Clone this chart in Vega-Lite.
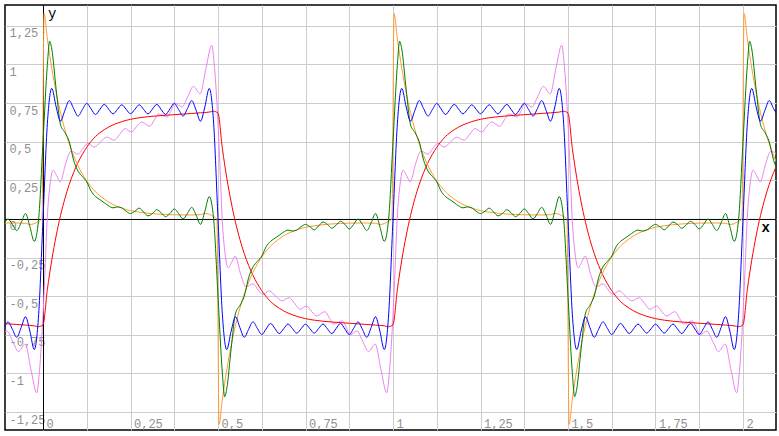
{
"$schema":"https://vega.github.io/schema/vega-lite/v6.json",
"width":771,"height":425,
"autosize":{"type":"none"},
"padding":{"left":5,"top":5,"right":3,"bottom":6},
"background":"white",
"config":{"view":{"stroke":"black","strokeWidth":1.5}},
"layer":[
{"data":{"values":[{}]},"mark":{"type":"rule","color":"black","strokeWidth":1,"xOffset":0.5},"encoding":{"x":{"datum":0,"type":"quantitative"}}},
{"data":{"values":[{}]},"mark":{"type":"rule","color":"black","strokeWidth":1,"yOffset":0.5},"encoding":{"y":{"datum":0,"type":"quantitative"}}},
{"data":{"values":[
{"s":"v","x":-0.134,"y":-0.7},{"s":"v","x":-0.123,"y":-0.75},{"s":"v","x":-0.103,"y":-0.725},{"s":"v","x":-0.087,"y":-0.79},{"s":"v","x":-0.07,"y":-0.858},{"s":"v","x":-0.051,"y":-0.81},{"s":"v","x":-0.034,"y":-0.98},
{"s":"v","x":-0.018,"y":-1.125},{"s":"v","x":-0.01,"y":-0.98},{"s":"v","x":0,"y":-0.62},{"s":"v","x":0.006,"y":-0.32},{"s":"v","x":0.012,"y":0},{"s":"v","x":0.02,"y":0.22},{"s":"v","x":0.029,"y":0.316},{"s":"v","x":0.04,"y":0.275},{"s":"v","x":0.049,"y":0.24},{"s":"v","x":0.065,"y":0.36},{"s":"v","x":0.08,"y":0.44},{"s":"v","x":0.1,"y":0.42},{"s":"v","x":0.115,"y":0.46},{"s":"v","x":0.128,"y":0.49},{"s":"v","x":0.146,"y":0.465},{"s":"v","x":0.165,"y":0.5},{"s":"v","x":0.182,"y":0.53},{"s":"v","x":0.203,"y":0.51},{"s":"v","x":0.22,"y":0.55},{"s":"v","x":0.234,"y":0.585},{"s":"v","x":0.253,"y":0.563},{"s":"v","x":0.268,"y":0.6},{"s":"v","x":0.282,"y":0.628},{"s":"v","x":0.305,"y":0.6},{"s":"v","x":0.318,"y":0.64},{"s":"v","x":0.33,"y":0.68},{"s":"v","x":0.355,"y":0.66},{"s":"v","x":0.366,"y":0.7},{"s":"v","x":0.377,"y":0.75},{"s":"v","x":0.397,"y":0.725},{"s":"v","x":0.413,"y":0.79},{"s":"v","x":0.43,"y":0.858},{"s":"v","x":0.449,"y":0.81},{"s":"v","x":0.466,"y":0.98},
{"s":"v","x":0.482,"y":1.125},{"s":"v","x":0.49,"y":0.98},{"s":"v","x":0.5,"y":0.62},{"s":"v","x":0.506,"y":0.32},{"s":"v","x":0.512,"y":0},{"s":"v","x":0.52,"y":-0.22},{"s":"v","x":0.529,"y":-0.316},{"s":"v","x":0.54,"y":-0.275},{"s":"v","x":0.549,"y":-0.24},{"s":"v","x":0.565,"y":-0.36},{"s":"v","x":0.58,"y":-0.44},{"s":"v","x":0.6,"y":-0.42},{"s":"v","x":0.615,"y":-0.46},{"s":"v","x":0.628,"y":-0.49},{"s":"v","x":0.646,"y":-0.465},{"s":"v","x":0.665,"y":-0.5},{"s":"v","x":0.682,"y":-0.53},{"s":"v","x":0.703,"y":-0.51},{"s":"v","x":0.72,"y":-0.55},{"s":"v","x":0.734,"y":-0.585},{"s":"v","x":0.753,"y":-0.563},{"s":"v","x":0.768,"y":-0.6},{"s":"v","x":0.782,"y":-0.628},{"s":"v","x":0.805,"y":-0.6},{"s":"v","x":0.818,"y":-0.64},{"s":"v","x":0.83,"y":-0.68},{"s":"v","x":0.855,"y":-0.66},{"s":"v","x":0.866,"y":-0.7},{"s":"v","x":0.877,"y":-0.75},{"s":"v","x":0.897,"y":-0.725},{"s":"v","x":0.913,"y":-0.79},{"s":"v","x":0.93,"y":-0.858},{"s":"v","x":0.949,"y":-0.81},{"s":"v","x":0.966,"y":-0.98},
{"s":"v","x":0.982,"y":-1.125},{"s":"v","x":0.99,"y":-0.98},{"s":"v","x":1,"y":-0.62},{"s":"v","x":1.006,"y":-0.32},{"s":"v","x":1.012,"y":0},{"s":"v","x":1.02,"y":0.22},{"s":"v","x":1.029,"y":0.316},{"s":"v","x":1.04,"y":0.275},{"s":"v","x":1.049,"y":0.24},{"s":"v","x":1.065,"y":0.36},{"s":"v","x":1.08,"y":0.44},{"s":"v","x":1.1,"y":0.42},{"s":"v","x":1.115,"y":0.46},{"s":"v","x":1.128,"y":0.49},{"s":"v","x":1.146,"y":0.465},{"s":"v","x":1.165,"y":0.5},{"s":"v","x":1.182,"y":0.53},{"s":"v","x":1.203,"y":0.51},{"s":"v","x":1.22,"y":0.55},{"s":"v","x":1.234,"y":0.585},{"s":"v","x":1.253,"y":0.563},{"s":"v","x":1.268,"y":0.6},{"s":"v","x":1.282,"y":0.628},{"s":"v","x":1.305,"y":0.6},{"s":"v","x":1.318,"y":0.64},{"s":"v","x":1.33,"y":0.68},{"s":"v","x":1.355,"y":0.66},{"s":"v","x":1.366,"y":0.7},{"s":"v","x":1.377,"y":0.75},{"s":"v","x":1.397,"y":0.725},{"s":"v","x":1.413,"y":0.79},{"s":"v","x":1.43,"y":0.858},{"s":"v","x":1.449,"y":0.81},{"s":"v","x":1.466,"y":0.98},
{"s":"v","x":1.482,"y":1.125},{"s":"v","x":1.49,"y":0.98},{"s":"v","x":1.5,"y":0.62},{"s":"v","x":1.506,"y":0.32},{"s":"v","x":1.512,"y":0},{"s":"v","x":1.52,"y":-0.22},{"s":"v","x":1.529,"y":-0.316},{"s":"v","x":1.54,"y":-0.275},{"s":"v","x":1.549,"y":-0.24},{"s":"v","x":1.565,"y":-0.36},{"s":"v","x":1.58,"y":-0.44},{"s":"v","x":1.6,"y":-0.42},{"s":"v","x":1.615,"y":-0.46},{"s":"v","x":1.628,"y":-0.49},{"s":"v","x":1.646,"y":-0.465},{"s":"v","x":1.665,"y":-0.5},{"s":"v","x":1.682,"y":-0.53},{"s":"v","x":1.703,"y":-0.51},{"s":"v","x":1.72,"y":-0.55},{"s":"v","x":1.734,"y":-0.585},{"s":"v","x":1.753,"y":-0.563},{"s":"v","x":1.768,"y":-0.6},{"s":"v","x":1.782,"y":-0.628},{"s":"v","x":1.805,"y":-0.6},{"s":"v","x":1.818,"y":-0.64},{"s":"v","x":1.83,"y":-0.68},{"s":"v","x":1.855,"y":-0.66},{"s":"v","x":1.866,"y":-0.7},{"s":"v","x":1.877,"y":-0.75},{"s":"v","x":1.897,"y":-0.725},{"s":"v","x":1.913,"y":-0.79},{"s":"v","x":1.93,"y":-0.858},{"s":"v","x":1.949,"y":-0.81},{"s":"v","x":1.966,"y":-0.98},
{"s":"v","x":1.982,"y":-1.125},{"s":"v","x":1.99,"y":-0.98},{"s":"v","x":2,"y":-0.62},{"s":"v","x":2.006,"y":-0.32},{"s":"v","x":2.012,"y":0},{"s":"v","x":2.02,"y":0.22},{"s":"v","x":2.029,"y":0.316},{"s":"v","x":2.04,"y":0.275},{"s":"v","x":2.049,"y":0.24},{"s":"v","x":2.065,"y":0.36},{"s":"v","x":2.08,"y":0.44},{"s":"v","x":2.1,"y":0.42},{"s":"v","x":2.115,"y":0.46},

{"s":"r","x":-0.125,"y":-0.675},{"s":"r","x":-0.1,"y":-0.679},{"s":"r","x":-0.075,"y":-0.683},{"s":"r","x":-0.05,"y":-0.687},{"s":"r","x":-0.025,"y":-0.692},{"s":"r","x":-0.0125,"y":-0.697},
{"s":"r","x":0,"y":-0.685},{"s":"r","x":0.0125,"y":-0.455},{"s":"r","x":0.025,"y":-0.267},{"s":"r","x":0.0375,"y":-0.11},{"s":"r","x":0.05,"y":0.022},{"s":"r","x":0.0625,"y":0.132},{"s":"r","x":0.075,"y":0.224},{"s":"r","x":0.0875,"y":0.301},{"s":"r","x":0.1,"y":0.365},{"s":"r","x":0.1125,"y":0.419},{"s":"r","x":0.125,"y":0.464},{"s":"r","x":0.1375,"y":0.502},{"s":"r","x":0.15,"y":0.534},{"s":"r","x":0.1625,"y":0.558},{"s":"r","x":0.175,"y":0.578},{"s":"r","x":0.1875,"y":0.595},{"s":"r","x":0.2,"y":0.609},{"s":"r","x":0.2125,"y":0.62},{"s":"r","x":0.225,"y":0.63},{"s":"r","x":0.25,"y":0.645},{"s":"r","x":0.275,"y":0.655},{"s":"r","x":0.3,"y":0.662},{"s":"r","x":0.325,"y":0.667},{"s":"r","x":0.35,"y":0.671},{"s":"r","x":0.375,"y":0.675},{"s":"r","x":0.4,"y":0.679},{"s":"r","x":0.425,"y":0.683},{"s":"r","x":0.45,"y":0.687},{"s":"r","x":0.475,"y":0.692},{"s":"r","x":0.4875,"y":0.697},
{"s":"r","x":0.5,"y":0.685},{"s":"r","x":0.5125,"y":0.455},{"s":"r","x":0.525,"y":0.267},{"s":"r","x":0.5375,"y":0.11},{"s":"r","x":0.55,"y":-0.022},{"s":"r","x":0.5625,"y":-0.132},{"s":"r","x":0.575,"y":-0.224},{"s":"r","x":0.5875,"y":-0.301},{"s":"r","x":0.6,"y":-0.365},{"s":"r","x":0.6125,"y":-0.419},{"s":"r","x":0.625,"y":-0.464},{"s":"r","x":0.6375,"y":-0.502},{"s":"r","x":0.65,"y":-0.534},{"s":"r","x":0.6625,"y":-0.558},{"s":"r","x":0.675,"y":-0.578},{"s":"r","x":0.6875,"y":-0.595},{"s":"r","x":0.7,"y":-0.609},{"s":"r","x":0.7125,"y":-0.62},{"s":"r","x":0.725,"y":-0.63},{"s":"r","x":0.75,"y":-0.645},{"s":"r","x":0.775,"y":-0.655},{"s":"r","x":0.8,"y":-0.662},{"s":"r","x":0.825,"y":-0.667},{"s":"r","x":0.85,"y":-0.671},{"s":"r","x":0.875,"y":-0.675},{"s":"r","x":0.9,"y":-0.679},{"s":"r","x":0.925,"y":-0.683},{"s":"r","x":0.95,"y":-0.687},{"s":"r","x":0.975,"y":-0.692},{"s":"r","x":0.9875,"y":-0.697},
{"s":"r","x":1,"y":-0.685},{"s":"r","x":1.0125,"y":-0.455},{"s":"r","x":1.025,"y":-0.267},{"s":"r","x":1.0375,"y":-0.11},{"s":"r","x":1.05,"y":0.022},{"s":"r","x":1.0625,"y":0.132},{"s":"r","x":1.075,"y":0.224},{"s":"r","x":1.0875,"y":0.301},{"s":"r","x":1.1,"y":0.365},{"s":"r","x":1.1125,"y":0.419},{"s":"r","x":1.125,"y":0.464},{"s":"r","x":1.1375,"y":0.502},{"s":"r","x":1.15,"y":0.534},{"s":"r","x":1.1625,"y":0.558},{"s":"r","x":1.175,"y":0.578},{"s":"r","x":1.1875,"y":0.595},{"s":"r","x":1.2,"y":0.609},{"s":"r","x":1.2125,"y":0.62},{"s":"r","x":1.225,"y":0.63},{"s":"r","x":1.25,"y":0.645},{"s":"r","x":1.275,"y":0.655},{"s":"r","x":1.3,"y":0.662},{"s":"r","x":1.325,"y":0.667},{"s":"r","x":1.35,"y":0.671},{"s":"r","x":1.375,"y":0.675},{"s":"r","x":1.4,"y":0.679},{"s":"r","x":1.425,"y":0.683},{"s":"r","x":1.45,"y":0.687},{"s":"r","x":1.475,"y":0.692},{"s":"r","x":1.4875,"y":0.697},
{"s":"r","x":1.5,"y":0.685},{"s":"r","x":1.5125,"y":0.455},{"s":"r","x":1.525,"y":0.267},{"s":"r","x":1.5375,"y":0.11},{"s":"r","x":1.55,"y":-0.022},{"s":"r","x":1.5625,"y":-0.132},{"s":"r","x":1.575,"y":-0.224},{"s":"r","x":1.5875,"y":-0.301},{"s":"r","x":1.6,"y":-0.365},{"s":"r","x":1.6125,"y":-0.419},{"s":"r","x":1.625,"y":-0.464},{"s":"r","x":1.6375,"y":-0.502},{"s":"r","x":1.65,"y":-0.534},{"s":"r","x":1.6625,"y":-0.558},{"s":"r","x":1.675,"y":-0.578},{"s":"r","x":1.6875,"y":-0.595},{"s":"r","x":1.7,"y":-0.609},{"s":"r","x":1.7125,"y":-0.62},{"s":"r","x":1.725,"y":-0.63},{"s":"r","x":1.75,"y":-0.645},{"s":"r","x":1.775,"y":-0.655},{"s":"r","x":1.8,"y":-0.662},{"s":"r","x":1.825,"y":-0.667},{"s":"r","x":1.85,"y":-0.671},{"s":"r","x":1.875,"y":-0.675},{"s":"r","x":1.9,"y":-0.679},{"s":"r","x":1.925,"y":-0.683},{"s":"r","x":1.95,"y":-0.687},{"s":"r","x":1.975,"y":-0.692},{"s":"r","x":1.9875,"y":-0.697},
{"s":"r","x":2,"y":-0.685},{"s":"r","x":2.0125,"y":-0.455},{"s":"r","x":2.025,"y":-0.267},{"s":"r","x":2.0375,"y":-0.11},{"s":"r","x":2.05,"y":0.022},{"s":"r","x":2.0625,"y":0.132},{"s":"r","x":2.075,"y":0.224},{"s":"r","x":2.0875,"y":0.301},{"s":"r","x":2.1,"y":0.365},

{"s":"o","x":-0.125,"y":-0.027},{"s":"o","x":-0.1,"y":-0.026},{"s":"o","x":-0.075,"y":-0.026},{"s":"o","x":-0.05,"y":-0.028},{"s":"o","x":-0.0375,"y":-0.036},{"s":"o","x":-0.025,"y":-0.03},{"s":"o","x":-0.0125,"y":-0.015},{"s":"o","x":-0.003,"y":0},
{"s":"o","x":0.003,"y":1.33},{"s":"o","x":0.0125,"y":1.165},{"s":"o","x":0.025,"y":0.977},{"s":"o","x":0.0375,"y":0.82},{"s":"o","x":0.05,"y":0.688},{"s":"o","x":0.0625,"y":0.578},{"s":"o","x":0.075,"y":0.486},{"s":"o","x":0.0875,"y":0.409},{"s":"o","x":0.1,"y":0.345},{"s":"o","x":0.1125,"y":0.291},{"s":"o","x":0.125,"y":0.246},{"s":"o","x":0.1375,"y":0.208},{"s":"o","x":0.15,"y":0.176},{"s":"o","x":0.1625,"y":0.15},{"s":"o","x":0.175,"y":0.128},{"s":"o","x":0.1875,"y":0.109},{"s":"o","x":0.2,"y":0.094},{"s":"o","x":0.225,"y":0.07},{"s":"o","x":0.25,"y":0.054},{"s":"o","x":0.275,"y":0.044},{"s":"o","x":0.3,"y":0.037},{"s":"o","x":0.325,"y":0.032},{"s":"o","x":0.35,"y":0.029},{"s":"o","x":0.375,"y":0.027},{"s":"o","x":0.4,"y":0.026},{"s":"o","x":0.425,"y":0.026},{"s":"o","x":0.45,"y":0.028},{"s":"o","x":0.4625,"y":0.036},{"s":"o","x":0.475,"y":0.03},{"s":"o","x":0.4875,"y":0.015},{"s":"o","x":0.497,"y":0},
{"s":"o","x":0.503,"y":-1.33},{"s":"o","x":0.5125,"y":-1.165},{"s":"o","x":0.525,"y":-0.977},{"s":"o","x":0.5375,"y":-0.82},{"s":"o","x":0.55,"y":-0.688},{"s":"o","x":0.5625,"y":-0.578},{"s":"o","x":0.575,"y":-0.486},{"s":"o","x":0.5875,"y":-0.409},{"s":"o","x":0.6,"y":-0.345},{"s":"o","x":0.6125,"y":-0.291},{"s":"o","x":0.625,"y":-0.246},{"s":"o","x":0.6375,"y":-0.208},{"s":"o","x":0.65,"y":-0.176},{"s":"o","x":0.6625,"y":-0.15},{"s":"o","x":0.675,"y":-0.128},{"s":"o","x":0.6875,"y":-0.109},{"s":"o","x":0.7,"y":-0.094},{"s":"o","x":0.725,"y":-0.07},{"s":"o","x":0.75,"y":-0.054},{"s":"o","x":0.775,"y":-0.044},{"s":"o","x":0.8,"y":-0.037},{"s":"o","x":0.825,"y":-0.032},{"s":"o","x":0.85,"y":-0.029},{"s":"o","x":0.875,"y":-0.027},{"s":"o","x":0.9,"y":-0.026},{"s":"o","x":0.925,"y":-0.026},{"s":"o","x":0.95,"y":-0.028},{"s":"o","x":0.9625,"y":-0.036},{"s":"o","x":0.975,"y":-0.03},{"s":"o","x":0.9875,"y":-0.015},{"s":"o","x":0.997,"y":0},
{"s":"o","x":1.003,"y":1.33},{"s":"o","x":1.0125,"y":1.165},{"s":"o","x":1.025,"y":0.977},{"s":"o","x":1.0375,"y":0.82},{"s":"o","x":1.05,"y":0.688},{"s":"o","x":1.0625,"y":0.578},{"s":"o","x":1.075,"y":0.486},{"s":"o","x":1.0875,"y":0.409},{"s":"o","x":1.1,"y":0.345},{"s":"o","x":1.1125,"y":0.291},{"s":"o","x":1.125,"y":0.246},{"s":"o","x":1.1375,"y":0.208},{"s":"o","x":1.15,"y":0.176},{"s":"o","x":1.1625,"y":0.15},{"s":"o","x":1.175,"y":0.128},{"s":"o","x":1.1875,"y":0.109},{"s":"o","x":1.2,"y":0.094},{"s":"o","x":1.225,"y":0.07},{"s":"o","x":1.25,"y":0.054},{"s":"o","x":1.275,"y":0.044},{"s":"o","x":1.3,"y":0.037},{"s":"o","x":1.325,"y":0.032},{"s":"o","x":1.35,"y":0.029},{"s":"o","x":1.375,"y":0.027},{"s":"o","x":1.4,"y":0.026},{"s":"o","x":1.425,"y":0.026},{"s":"o","x":1.45,"y":0.028},{"s":"o","x":1.4625,"y":0.036},{"s":"o","x":1.475,"y":0.03},{"s":"o","x":1.4875,"y":0.015},{"s":"o","x":1.497,"y":0},
{"s":"o","x":1.503,"y":-1.33},{"s":"o","x":1.5125,"y":-1.165},{"s":"o","x":1.525,"y":-0.977},{"s":"o","x":1.5375,"y":-0.82},{"s":"o","x":1.55,"y":-0.688},{"s":"o","x":1.5625,"y":-0.578},{"s":"o","x":1.575,"y":-0.486},{"s":"o","x":1.5875,"y":-0.409},{"s":"o","x":1.6,"y":-0.345},{"s":"o","x":1.6125,"y":-0.291},{"s":"o","x":1.625,"y":-0.246},{"s":"o","x":1.6375,"y":-0.208},{"s":"o","x":1.65,"y":-0.176},{"s":"o","x":1.6625,"y":-0.15},{"s":"o","x":1.675,"y":-0.128},{"s":"o","x":1.6875,"y":-0.109},{"s":"o","x":1.7,"y":-0.094},{"s":"o","x":1.725,"y":-0.07},{"s":"o","x":1.75,"y":-0.054},{"s":"o","x":1.775,"y":-0.044},{"s":"o","x":1.8,"y":-0.037},{"s":"o","x":1.825,"y":-0.032},{"s":"o","x":1.85,"y":-0.029},{"s":"o","x":1.875,"y":-0.027},{"s":"o","x":1.9,"y":-0.026},{"s":"o","x":1.925,"y":-0.026},{"s":"o","x":1.95,"y":-0.028},{"s":"o","x":1.9625,"y":-0.036},{"s":"o","x":1.975,"y":-0.03},{"s":"o","x":1.9875,"y":-0.015},{"s":"o","x":1.997,"y":0},
{"s":"o","x":2.003,"y":1.33},{"s":"o","x":2.0125,"y":1.165},{"s":"o","x":2.025,"y":0.977},{"s":"o","x":2.0375,"y":0.82},{"s":"o","x":2.05,"y":0.688},{"s":"o","x":2.0625,"y":0.578},{"s":"o","x":2.075,"y":0.486},{"s":"o","x":2.0875,"y":0.409},{"s":"o","x":2.1,"y":0.345},

{"s":"g","x":-0.125,"y":-0.065},{"s":"g","x":-0.1125,"y":-0.035},{"s":"g","x":-0.1,"y":0},{"s":"g","x":-0.0875,"y":-0.035},{"s":"g","x":-0.075,"y":-0.075},{"s":"g","x":-0.0625,"y":-0.025},{"s":"g","x":-0.05,"y":0.035},{"s":"g","x":-0.0375,"y":-0.05},{"s":"g","x":-0.025,"y":-0.145},{"s":"g","x":-0.0125,"y":0},
{"s":"g","x":0,"y":0.5},{"s":"g","x":0.0125,"y":1},{"s":"g","x":0.019,"y":1.15},{"s":"g","x":0.025,"y":1.1},{"s":"g","x":0.0375,"y":0.84},{"s":"g","x":0.05,"y":0.61},{"s":"g","x":0.0625,"y":0.56},{"s":"g","x":0.075,"y":0.5},{"s":"g","x":0.0875,"y":0.38},{"s":"g","x":0.1,"y":0.31},{"s":"g","x":0.1125,"y":0.275},{"s":"g","x":0.125,"y":0.24},{"s":"g","x":0.1375,"y":0.18},{"s":"g","x":0.15,"y":0.145},{"s":"g","x":0.1625,"y":0.125},{"s":"g","x":0.175,"y":0.105},{"s":"g","x":0.1875,"y":0.085},{"s":"g","x":0.2,"y":0.072},{"s":"g","x":0.2125,"y":0.078},{"s":"g","x":0.225,"y":0.072},{"s":"g","x":0.2375,"y":0.05},{"s":"g","x":0.25,"y":0.035},{"s":"g","x":0.2625,"y":0.05},{"s":"g","x":0.275,"y":0.07},{"s":"g","x":0.2875,"y":0.045},{"s":"g","x":0.3,"y":0.02},{"s":"g","x":0.3125,"y":0.035},{"s":"g","x":0.325,"y":0.06},{"s":"g","x":0.3375,"y":0.04},{"s":"g","x":0.35,"y":0.015},{"s":"g","x":0.3625,"y":0.035},{"s":"g","x":0.375,"y":0.065},{"s":"g","x":0.3875,"y":0.035},{"s":"g","x":0.4,"y":0},{"s":"g","x":0.4125,"y":0.035},{"s":"g","x":0.425,"y":0.075},{"s":"g","x":0.4375,"y":0.025},{"s":"g","x":0.45,"y":-0.035},{"s":"g","x":0.4625,"y":0.05},{"s":"g","x":0.475,"y":0.145},{"s":"g","x":0.4875,"y":0},
{"s":"g","x":0.5,"y":-0.5},{"s":"g","x":0.5125,"y":-1},{"s":"g","x":0.519,"y":-1.15},{"s":"g","x":0.525,"y":-1.1},{"s":"g","x":0.5375,"y":-0.84},{"s":"g","x":0.55,"y":-0.61},{"s":"g","x":0.5625,"y":-0.56},{"s":"g","x":0.575,"y":-0.5},{"s":"g","x":0.5875,"y":-0.38},{"s":"g","x":0.6,"y":-0.31},{"s":"g","x":0.6125,"y":-0.275},{"s":"g","x":0.625,"y":-0.24},{"s":"g","x":0.6375,"y":-0.18},{"s":"g","x":0.65,"y":-0.145},{"s":"g","x":0.6625,"y":-0.125},{"s":"g","x":0.675,"y":-0.105},{"s":"g","x":0.6875,"y":-0.085},{"s":"g","x":0.7,"y":-0.072},{"s":"g","x":0.7125,"y":-0.078},{"s":"g","x":0.725,"y":-0.072},{"s":"g","x":0.7375,"y":-0.05},{"s":"g","x":0.75,"y":-0.035},{"s":"g","x":0.7625,"y":-0.05},{"s":"g","x":0.775,"y":-0.07},{"s":"g","x":0.7875,"y":-0.045},{"s":"g","x":0.8,"y":-0.02},{"s":"g","x":0.8125,"y":-0.035},{"s":"g","x":0.825,"y":-0.06},{"s":"g","x":0.8375,"y":-0.04},{"s":"g","x":0.85,"y":-0.015},{"s":"g","x":0.8625,"y":-0.035},{"s":"g","x":0.875,"y":-0.065},{"s":"g","x":0.8875,"y":-0.035},{"s":"g","x":0.9,"y":0},{"s":"g","x":0.9125,"y":-0.035},{"s":"g","x":0.925,"y":-0.075},{"s":"g","x":0.9375,"y":-0.025},{"s":"g","x":0.95,"y":0.035},{"s":"g","x":0.9625,"y":-0.05},{"s":"g","x":0.975,"y":-0.145},{"s":"g","x":0.9875,"y":0},
{"s":"g","x":1,"y":0.5},{"s":"g","x":1.0125,"y":1},{"s":"g","x":1.019,"y":1.15},{"s":"g","x":1.025,"y":1.1},{"s":"g","x":1.0375,"y":0.84},{"s":"g","x":1.05,"y":0.61},{"s":"g","x":1.0625,"y":0.56},{"s":"g","x":1.075,"y":0.5},{"s":"g","x":1.0875,"y":0.38},{"s":"g","x":1.1,"y":0.31},{"s":"g","x":1.1125,"y":0.275},{"s":"g","x":1.125,"y":0.24},{"s":"g","x":1.1375,"y":0.18},{"s":"g","x":1.15,"y":0.145},{"s":"g","x":1.1625,"y":0.125},{"s":"g","x":1.175,"y":0.105},{"s":"g","x":1.1875,"y":0.085},{"s":"g","x":1.2,"y":0.072},{"s":"g","x":1.2125,"y":0.078},{"s":"g","x":1.225,"y":0.072},{"s":"g","x":1.2375,"y":0.05},{"s":"g","x":1.25,"y":0.035},{"s":"g","x":1.2625,"y":0.05},{"s":"g","x":1.275,"y":0.07},{"s":"g","x":1.2875,"y":0.045},{"s":"g","x":1.3,"y":0.02},{"s":"g","x":1.3125,"y":0.035},{"s":"g","x":1.325,"y":0.06},{"s":"g","x":1.3375,"y":0.04},{"s":"g","x":1.35,"y":0.015},{"s":"g","x":1.3625,"y":0.035},{"s":"g","x":1.375,"y":0.065},{"s":"g","x":1.3875,"y":0.035},{"s":"g","x":1.4,"y":0},{"s":"g","x":1.4125,"y":0.035},{"s":"g","x":1.425,"y":0.075},{"s":"g","x":1.4375,"y":0.025},{"s":"g","x":1.45,"y":-0.035},{"s":"g","x":1.4625,"y":0.05},{"s":"g","x":1.475,"y":0.145},{"s":"g","x":1.4875,"y":0},
{"s":"g","x":1.5,"y":-0.5},{"s":"g","x":1.5125,"y":-1},{"s":"g","x":1.519,"y":-1.15},{"s":"g","x":1.525,"y":-1.1},{"s":"g","x":1.5375,"y":-0.84},{"s":"g","x":1.55,"y":-0.61},{"s":"g","x":1.5625,"y":-0.56},{"s":"g","x":1.575,"y":-0.5},{"s":"g","x":1.5875,"y":-0.38},{"s":"g","x":1.6,"y":-0.31},{"s":"g","x":1.6125,"y":-0.275},{"s":"g","x":1.625,"y":-0.24},{"s":"g","x":1.6375,"y":-0.18},{"s":"g","x":1.65,"y":-0.145},{"s":"g","x":1.6625,"y":-0.125},{"s":"g","x":1.675,"y":-0.105},{"s":"g","x":1.6875,"y":-0.085},{"s":"g","x":1.7,"y":-0.072},{"s":"g","x":1.7125,"y":-0.078},{"s":"g","x":1.725,"y":-0.072},{"s":"g","x":1.7375,"y":-0.05},{"s":"g","x":1.75,"y":-0.035},{"s":"g","x":1.7625,"y":-0.05},{"s":"g","x":1.775,"y":-0.07},{"s":"g","x":1.7875,"y":-0.045},{"s":"g","x":1.8,"y":-0.02},{"s":"g","x":1.8125,"y":-0.035},{"s":"g","x":1.825,"y":-0.06},{"s":"g","x":1.8375,"y":-0.04},{"s":"g","x":1.85,"y":-0.015},{"s":"g","x":1.8625,"y":-0.035},{"s":"g","x":1.875,"y":-0.065},{"s":"g","x":1.8875,"y":-0.035},{"s":"g","x":1.9,"y":0},{"s":"g","x":1.9125,"y":-0.035},{"s":"g","x":1.925,"y":-0.075},{"s":"g","x":1.9375,"y":-0.025},{"s":"g","x":1.95,"y":0.035},{"s":"g","x":1.9625,"y":-0.05},{"s":"g","x":1.975,"y":-0.145},{"s":"g","x":1.9875,"y":0},
{"s":"g","x":2,"y":0.5},{"s":"g","x":2.0125,"y":1},{"s":"g","x":2.019,"y":1.15},{"s":"g","x":2.025,"y":1.1},{"s":"g","x":2.0375,"y":0.84},{"s":"g","x":2.05,"y":0.61},{"s":"g","x":2.0625,"y":0.56},{"s":"g","x":2.075,"y":0.5},{"s":"g","x":2.0875,"y":0.38},{"s":"g","x":2.1,"y":0.31},

{"s":"b","x":-0.125,"y":-0.748},{"s":"b","x":-0.1125,"y":-0.708},{"s":"b","x":-0.1,"y":-0.666},{"s":"b","x":-0.0875,"y":-0.714},{"s":"b","x":-0.075,"y":-0.766},{"s":"b","x":-0.0625,"y":-0.703},{"s":"b","x":-0.05,"y":-0.633},{"s":"b","x":-0.0375,"y":-0.726},{"s":"b","x":-0.025,"y":-0.845},{"s":"b","x":-0.0125,"y":-0.62},
{"s":"b","x":0,"y":0},{"s":"b","x":0.0125,"y":0.62},{"s":"b","x":0.025,"y":0.845},{"s":"b","x":0.0375,"y":0.726},{"s":"b","x":0.05,"y":0.633},{"s":"b","x":0.0625,"y":0.703},{"s":"b","x":0.075,"y":0.766},{"s":"b","x":0.0875,"y":0.714},{"s":"b","x":0.1,"y":0.666},{"s":"b","x":0.1125,"y":0.708},{"s":"b","x":0.125,"y":0.748},{"s":"b","x":0.1375,"y":0.712},{"s":"b","x":0.15,"y":0.676},{"s":"b","x":0.1625,"y":0.709},{"s":"b","x":0.175,"y":0.742},{"s":"b","x":0.1875,"y":0.711},{"s":"b","x":0.2,"y":0.68},{"s":"b","x":0.2125,"y":0.709},{"s":"b","x":0.225,"y":0.739},{"s":"b","x":0.2375,"y":0.71},{"s":"b","x":0.25,"y":0.681},{"s":"b","x":0.2625,"y":0.71},{"s":"b","x":0.275,"y":0.739},{"s":"b","x":0.2875,"y":0.709},{"s":"b","x":0.3,"y":0.68},{"s":"b","x":0.3125,"y":0.711},{"s":"b","x":0.325,"y":0.742},{"s":"b","x":0.3375,"y":0.709},{"s":"b","x":0.35,"y":0.676},{"s":"b","x":0.3625,"y":0.712},{"s":"b","x":0.375,"y":0.748},{"s":"b","x":0.3875,"y":0.708},{"s":"b","x":0.4,"y":0.666},{"s":"b","x":0.4125,"y":0.714},{"s":"b","x":0.425,"y":0.766},{"s":"b","x":0.4375,"y":0.703},{"s":"b","x":0.45,"y":0.633},{"s":"b","x":0.4625,"y":0.726},{"s":"b","x":0.475,"y":0.845},{"s":"b","x":0.4875,"y":0.62},
{"s":"b","x":0.5,"y":0},{"s":"b","x":0.5125,"y":-0.62},{"s":"b","x":0.525,"y":-0.845},{"s":"b","x":0.5375,"y":-0.726},{"s":"b","x":0.55,"y":-0.633},{"s":"b","x":0.5625,"y":-0.703},{"s":"b","x":0.575,"y":-0.766},{"s":"b","x":0.5875,"y":-0.714},{"s":"b","x":0.6,"y":-0.666},{"s":"b","x":0.6125,"y":-0.708},{"s":"b","x":0.625,"y":-0.748},{"s":"b","x":0.6375,"y":-0.712},{"s":"b","x":0.65,"y":-0.676},{"s":"b","x":0.6625,"y":-0.709},{"s":"b","x":0.675,"y":-0.742},{"s":"b","x":0.6875,"y":-0.711},{"s":"b","x":0.7,"y":-0.68},{"s":"b","x":0.7125,"y":-0.709},{"s":"b","x":0.725,"y":-0.739},{"s":"b","x":0.7375,"y":-0.71},{"s":"b","x":0.75,"y":-0.681},{"s":"b","x":0.7625,"y":-0.71},{"s":"b","x":0.775,"y":-0.739},{"s":"b","x":0.7875,"y":-0.709},{"s":"b","x":0.8,"y":-0.68},{"s":"b","x":0.8125,"y":-0.711},{"s":"b","x":0.825,"y":-0.742},{"s":"b","x":0.8375,"y":-0.709},{"s":"b","x":0.85,"y":-0.676},{"s":"b","x":0.8625,"y":-0.712},{"s":"b","x":0.875,"y":-0.748},{"s":"b","x":0.8875,"y":-0.708},{"s":"b","x":0.9,"y":-0.666},{"s":"b","x":0.9125,"y":-0.714},{"s":"b","x":0.925,"y":-0.766},{"s":"b","x":0.9375,"y":-0.703},{"s":"b","x":0.95,"y":-0.633},{"s":"b","x":0.9625,"y":-0.726},{"s":"b","x":0.975,"y":-0.845},{"s":"b","x":0.9875,"y":-0.62},
{"s":"b","x":1,"y":0},{"s":"b","x":1.0125,"y":0.62},{"s":"b","x":1.025,"y":0.845},{"s":"b","x":1.0375,"y":0.726},{"s":"b","x":1.05,"y":0.633},{"s":"b","x":1.0625,"y":0.703},{"s":"b","x":1.075,"y":0.766},{"s":"b","x":1.0875,"y":0.714},{"s":"b","x":1.1,"y":0.666},{"s":"b","x":1.1125,"y":0.708},{"s":"b","x":1.125,"y":0.748},{"s":"b","x":1.1375,"y":0.712},{"s":"b","x":1.15,"y":0.676},{"s":"b","x":1.1625,"y":0.709},{"s":"b","x":1.175,"y":0.742},{"s":"b","x":1.1875,"y":0.711},{"s":"b","x":1.2,"y":0.68},{"s":"b","x":1.2125,"y":0.709},{"s":"b","x":1.225,"y":0.739},{"s":"b","x":1.2375,"y":0.71},{"s":"b","x":1.25,"y":0.681},{"s":"b","x":1.2625,"y":0.71},{"s":"b","x":1.275,"y":0.739},{"s":"b","x":1.2875,"y":0.709},{"s":"b","x":1.3,"y":0.68},{"s":"b","x":1.3125,"y":0.711},{"s":"b","x":1.325,"y":0.742},{"s":"b","x":1.3375,"y":0.709},{"s":"b","x":1.35,"y":0.676},{"s":"b","x":1.3625,"y":0.712},{"s":"b","x":1.375,"y":0.748},{"s":"b","x":1.3875,"y":0.708},{"s":"b","x":1.4,"y":0.666},{"s":"b","x":1.4125,"y":0.714},{"s":"b","x":1.425,"y":0.766},{"s":"b","x":1.4375,"y":0.703},{"s":"b","x":1.45,"y":0.633},{"s":"b","x":1.4625,"y":0.726},{"s":"b","x":1.475,"y":0.845},{"s":"b","x":1.4875,"y":0.62},
{"s":"b","x":1.5,"y":0},{"s":"b","x":1.5125,"y":-0.62},{"s":"b","x":1.525,"y":-0.845},{"s":"b","x":1.5375,"y":-0.726},{"s":"b","x":1.55,"y":-0.633},{"s":"b","x":1.5625,"y":-0.703},{"s":"b","x":1.575,"y":-0.766},{"s":"b","x":1.5875,"y":-0.714},{"s":"b","x":1.6,"y":-0.666},{"s":"b","x":1.6125,"y":-0.708},{"s":"b","x":1.625,"y":-0.748},{"s":"b","x":1.6375,"y":-0.712},{"s":"b","x":1.65,"y":-0.676},{"s":"b","x":1.6625,"y":-0.709},{"s":"b","x":1.675,"y":-0.742},{"s":"b","x":1.6875,"y":-0.711},{"s":"b","x":1.7,"y":-0.68},{"s":"b","x":1.7125,"y":-0.709},{"s":"b","x":1.725,"y":-0.739},{"s":"b","x":1.7375,"y":-0.71},{"s":"b","x":1.75,"y":-0.681},{"s":"b","x":1.7625,"y":-0.71},{"s":"b","x":1.775,"y":-0.739},{"s":"b","x":1.7875,"y":-0.709},{"s":"b","x":1.8,"y":-0.68},{"s":"b","x":1.8125,"y":-0.711},{"s":"b","x":1.825,"y":-0.742},{"s":"b","x":1.8375,"y":-0.709},{"s":"b","x":1.85,"y":-0.676},{"s":"b","x":1.8625,"y":-0.712},{"s":"b","x":1.875,"y":-0.748},{"s":"b","x":1.8875,"y":-0.708},{"s":"b","x":1.9,"y":-0.666},{"s":"b","x":1.9125,"y":-0.714},{"s":"b","x":1.925,"y":-0.766},{"s":"b","x":1.9375,"y":-0.703},{"s":"b","x":1.95,"y":-0.633},{"s":"b","x":1.9625,"y":-0.726},{"s":"b","x":1.975,"y":-0.845},{"s":"b","x":1.9875,"y":-0.62},
{"s":"b","x":2,"y":0},{"s":"b","x":2.0125,"y":0.62},{"s":"b","x":2.025,"y":0.845},{"s":"b","x":2.0375,"y":0.726},{"s":"b","x":2.05,"y":0.633},{"s":"b","x":2.0625,"y":0.703},{"s":"b","x":2.075,"y":0.766},{"s":"b","x":2.0875,"y":0.714},{"s":"b","x":2.1,"y":0.666}
]},
"mark":{"type":"line","strokeWidth":1,"interpolate":"monotone","clip":true},
"encoding":{
"x":{"field":"x","type":"quantitative","scale":{"domain":[-0.1086,2.0943],"nice":false,"zero":false},
"axis":{"values":[0,0.125,0.25,0.375,0.5,0.625,0.75,0.875,1,1.125,1.25,1.375,1.5,1.625,1.75,1.875,2],"grid":true,"gridColor":"#cccccc","gridWidth":1,"domain":false,"ticks":false,"tickSize":0,"labelExpr":"datum.value % 0.25 ? '' : replace(replace(format(datum.value,'~g'),'−','-'),'.',',')","labelAlign":"left","labelBaseline":"alphabetic","labelPadding":-3,"labelOffset":3,"labelColor":"#909090","labelFont":"Liberation Mono","labelFontSize":12,"labelOverlap":false,"labelBound":false,"labelFlush":false,"title":null}},
"y":{"field":"y","type":"quantitative","scale":{"domain":[-1.366,1.385],"nice":false,"zero":false},
"axis":{"values":[-1.25,-1,-0.75,-0.5,-0.25,0,0.25,0.5,0.75,1,1.25],"grid":true,"gridColor":"#cccccc","gridWidth":1,"domain":false,"ticks":false,"tickSize":0,"labelExpr":"replace(replace(format(datum.value,'~g'),'−','-'),'.',',')","labelAlign":"left","labelBaseline":"top","labelPadding":-4,"labelOffset":2,"labelColor":"#909090","labelFont":"Liberation Mono","labelFontSize":12,"labelOverlap":false,"labelBound":false,"labelFlush":false,"title":null}},
"color":{"field":"s","type":"nominal","scale":{"domain":["v","r","o","g","b"],"range":["#ee82ee","#ff0000","#ff9933","#007f00","#0000ff"]},"legend":null}
}},
{"data":{"values":[{}]},"mark":{"type":"text","text":"y","font":"Liberation Mono","fontSize":14,"color":"black","align":"left","baseline":"alphabetic","dx":5,"dy":13},
"encoding":{"x":{"datum":0,"type":"quantitative"},"y":{"datum":1.385,"type":"quantitative"}}},
{"data":{"values":[{}]},"mark":{"type":"text","text":"x","font":"Liberation Mono","fontSize":14,"fontWeight":"bold","color":"black","align":"right","baseline":"alphabetic","dx":-6,"dy":13},
"encoding":{"x":{"datum":2.0943,"type":"quantitative"},"y":{"datum":0,"type":"quantitative"}}}
]
}
